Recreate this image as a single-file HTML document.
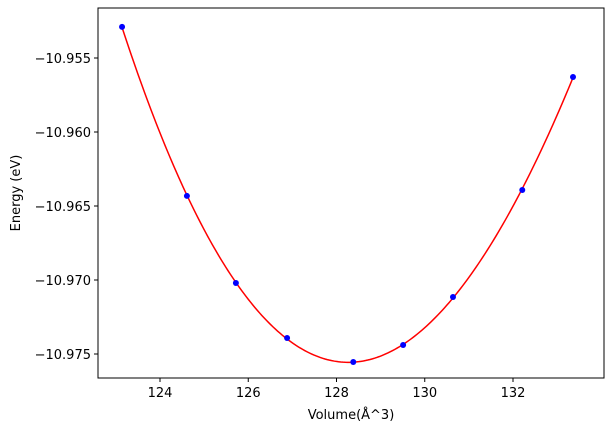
<!DOCTYPE html>
<html><head><meta charset="utf-8"><style>
html,body{margin:0;padding:0;background:#fff;}
svg{display:block;font-family:"DejaVu Sans","Liberation Sans",sans-serif;}
</style></head><body>
<svg id="chart" width="605" height="433" viewBox="0 0 605 433">
<rect x="0" y="0" width="605" height="433" fill="#fff"/>
<g id="plot"></g>
<text x="351" y="419" font-size="13" text-anchor="middle">Volume(Å^3)</text>
<text transform="translate(20,193) rotate(-90)" font-size="13" text-anchor="middle">Energy (eV)</text>
</svg>
<script>
const volumes = [123.14, 124.61, 125.72, 126.88, 128.38, 129.51, 130.64, 132.21, 133.36];
const energies = [-10.9529, -10.96432, -10.9702, -10.97392, -10.97554, -10.97439, -10.97115, -10.96392, -10.95628];
const xTicks = [124, 126, 128, 130, 132];
const yTicks = [-10.955, -10.960, -10.965, -10.970, -10.975];
const yTickLabels = ["−10.955", "−10.960", "−10.965", "−10.970", "−10.975"];

const L = 98, R = 604, T = 8, B = 378;
const sx = v => 160 + (v - 124) * 44.125;
const sy = e => 58 + (-10.955 - e) / 0.005 * 74;
const NS = "http://www.w3.org/2000/svg";
const g = document.getElementById('plot');
function mk(tag, attrs, parent) {
  const el = document.createElementNS(NS, tag);
  for (const k in attrs) el.setAttribute(k, attrs[k]);
  (parent || g).appendChild(el);
  return el;
}
function fit(xs, ys, deg) {
  const n = deg + 1, m = xs.length, xm = xs.reduce((a, b) => a + b, 0) / m;
  const A = [], bv = [];
  for (let i = 0; i < n; i++) { A.push(new Array(n).fill(0)); bv.push(0); }
  for (let k = 0; k < m; k++) {
    const t = xs[k] - xm;
    for (let i = 0; i < n; i++) {
      bv[i] += ys[k] * Math.pow(t, i);
      for (let j = 0; j < n; j++) A[i][j] += Math.pow(t, i + j);
    }
  }
  for (let i = 0; i < n; i++) {
    let p = i; for (let r = i + 1; r < n; r++) if (Math.abs(A[r][i]) > Math.abs(A[p][i])) p = r;
    [A[i], A[p]] = [A[p], A[i]]; [bv[i], bv[p]] = [bv[p], bv[i]];
    for (let r = i + 1; r < n; r++) {
      const f = A[r][i] / A[i][i];
      for (let c = i; c < n; c++) A[r][c] -= f * A[i][c];
      bv[r] -= f * bv[i];
    }
  }
  const c = new Array(n).fill(0);
  for (let i = n - 1; i >= 0; i--) {
    let s = bv[i]; for (let j = i + 1; j < n; j++) s -= A[i][j] * c[j];
    c[i] = s / A[i][i];
  }
  return x => c.reduce((s, ci, i) => s + ci * Math.pow(x - xm, i), 0);
}
const f = fit(volumes, energies, 3);
const x0 = Math.min(...volumes), x1 = Math.max(...volumes);
let d = "";
for (let i = 0; i <= 200; i++) {
  const v = x0 + (x1 - x0) * i / 200;
  d += (i ? "L" : "M") + sx(v).toFixed(2) + "," + sy(f(v)).toFixed(2);
}
const line = mk('path', {d: d, fill: 'none', stroke: '#ff0000', 'stroke-width': 1.5});


volumes.forEach((v, i) => {
  const c = mk('circle', {cx: sx(v), cy: sy(energies[i]), r: 3, fill: '#0000ff'});
  
  
});
const frame = mk('rect', {x: L, y: T, width: R - L, height: B - T, fill: 'none', stroke: '#000', 'stroke-width': 1});


xTicks.forEach(t => {
  const x = sx(t);
  const tk = mk('line', {x1: x, x2: x, y1: B, y2: B + 4, stroke: '#000'});
  
  
  const tx = mk('text', {x: x, y: B + 19, 'font-size': 13, 'text-anchor': 'middle'});
  tx.textContent = t;
  
  
});
yTicks.forEach((t, i) => {
  const y = sy(t);
  const tk = mk('line', {x1: L - 4, x2: L, y1: y, y2: y, stroke: '#000'});
  
  
  const tx = mk('text', {x: L - 7, y: y + 5, 'font-size': 13, 'text-anchor': 'end'});
  tx.textContent = yTickLabels[i];
  
  
});
</script>
</body></html>
